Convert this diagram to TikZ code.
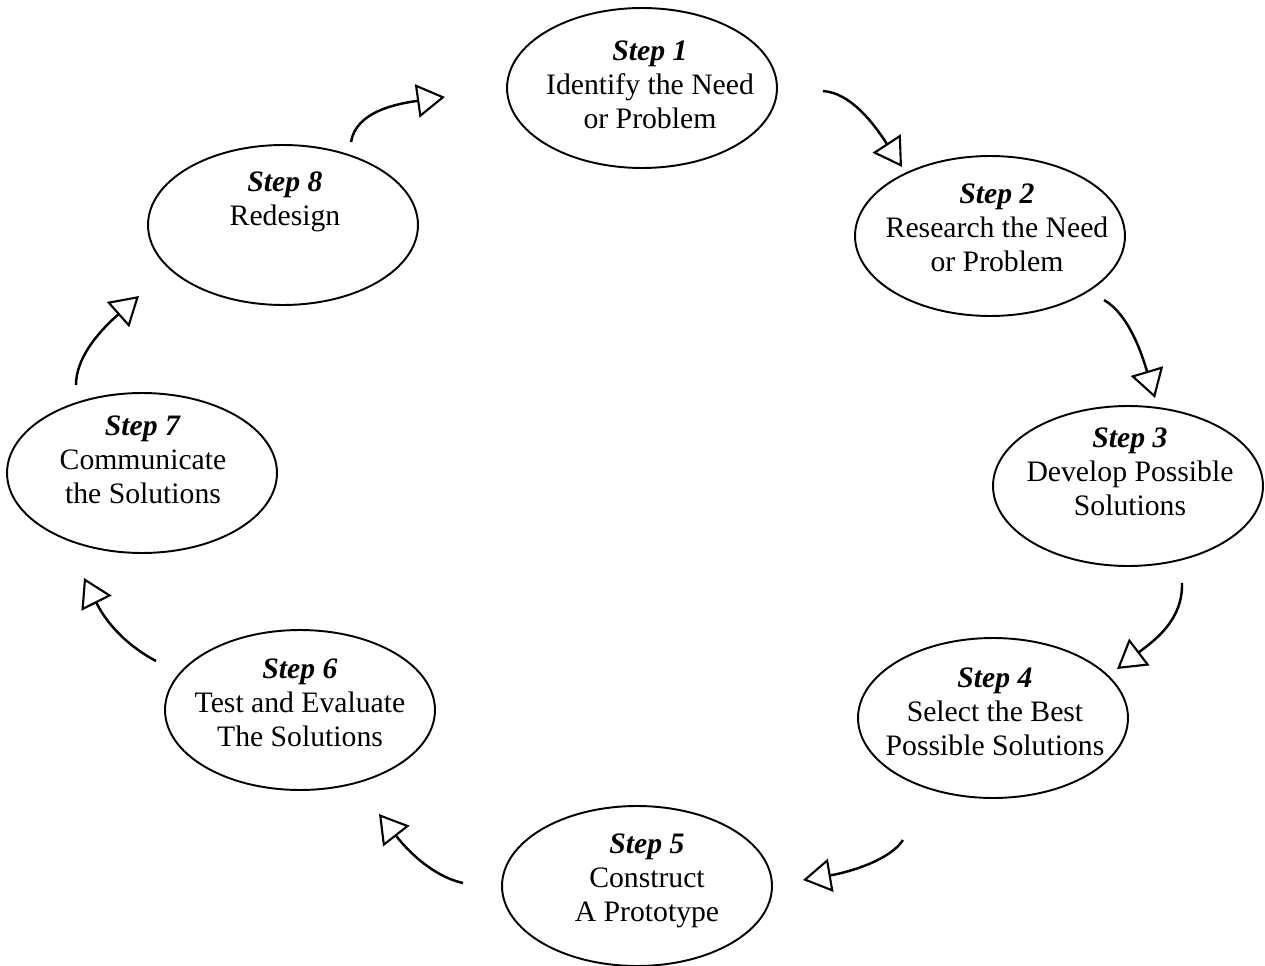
\documentclass[tikz,border=0pt]{standalone}
\usepackage{fontspec}
\setmainfont{Liberation Serif}
\usetikzlibrary{arrows.meta,shapes.geometric}
\begin{document}
\begin{tikzpicture}[x=0.02cm,y=-0.02cm,
  stepell/.style={draw, ellipse, line width=1.1pt, minimum width=5.4cm, minimum height=3.2cm, inner sep=0pt},
  steptxt/.style={align=center, inner sep=0pt, font=\fontsize{16.9}{19.4}\selectfont},
  arr/.style={line width=1.4pt, -{Triangle[open, length=16pt, width=19pt, line width=1.2pt]}}]
\useasboundingbox (0,0) rectangle (1265,966);
% ellipses
\node[stepell] (s1) at (642,88) {};
\node[stepell] (s2) at (990,236) {};
\node[stepell] (s3) at (1128,486) {};
\node[stepell] (s4) at (993,718) {};
\node[stepell] (s5) at (637,886) {};
\node[stepell] (s6) at (300,710) {};
\node[stepell] (s7) at (142,473) {};
\node[stepell] (s8) at (283,225) {};
% texts
\node[steptxt] (t1) at (650,85) {\textbf{\textit{Step 1}}\\Identify the Need\\or Problem};
\node[steptxt] (t2) at (997,228) {\textbf{\textit{Step 2}}\\Research the Need\\or Problem};
\node[steptxt] (t3) at (1130,472) {\textbf{\textit{Step 3}}\\Develop Possible\\Solutions};
\node[steptxt] (t4) at (995,712) {\textbf{\textit{Step 4}}\\Select the Best\\Possible Solutions};
\node[steptxt] (t5) at (647,881) {\textbf{\textit{Step 5}}\\Construct\\A Prototype};
\node[steptxt] (t6) at (300,703) {\textbf{\textit{Step 6}}\\Test and Evaluate\\The Solutions};
\node[steptxt] (t7) at (143,460) {\textbf{\textit{Step 7}}\\Communicate\\the Solutions};
\node[steptxt] (t8) at (285,202) {\textbf{\textit{Step 8}}\\Redesign};
% arrow end points
\coordinate (a1s) at (351,142); \coordinate (a1e) at (445,97);
\coordinate (a2s) at (823,91);  \coordinate (a2e) at (902,167);
\coordinate (a3s) at (1104,300); \coordinate (a3e) at (1155,398);
\coordinate (a4s) at (1182,583); \coordinate (a4e) at (1117,669);
\coordinate (a5s) at (903,840); \coordinate (a5e) at (803,880);
\coordinate (a6s) at (463,883); \coordinate (a6e) at (379,814);
\coordinate (a7s) at (156,661); \coordinate (a7e) at (84,578);
\coordinate (a8s) at (76,385); \coordinate (a8e) at (139,296);
% arrows
\draw[arr] (a1s) .. controls (356,112) and (395,104) .. (a1e);
\draw[arr] (a2s) .. controls (850,93) and (872,121) .. (a2e);
\draw[arr] (a3s) .. controls (1130,315) and (1143,358) .. (a3e);
\draw[arr] (a4s) .. controls (1183,620) and (1155,640) .. (a4e);
\draw[arr] (a5s) .. controls (890,860) and (850,872) .. (a5e);
\draw[arr] (a6s) .. controls (440,878) and (415,860) .. (a6e);
\draw[arr] (a7s) .. controls (135,650) and (110,630) .. (a7e);
\draw[arr] (a8s) .. controls (76,360) and (95,335) .. (a8e);
\end{tikzpicture}
\end{document}
